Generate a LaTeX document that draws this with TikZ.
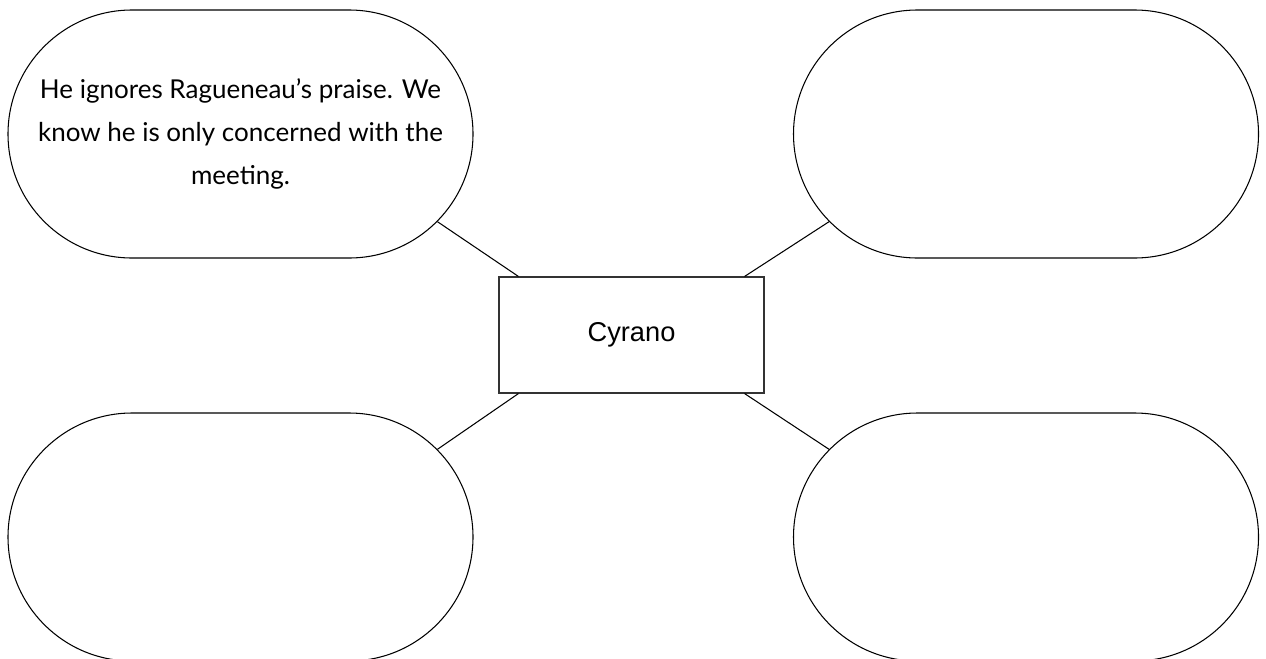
\documentclass[tikz,border=0pt]{standalone}
\usepackage{fontspec}
\setmainfont{Liberation Sans}
\newfontfamily\handfont{Lato}
\usetikzlibrary{shapes.misc}

\begin{document}
\begin{tikzpicture}[
    bubble/.style={draw, rounded rectangle, line width=0.6pt,
      minimum width=9.3cm, minimum height=4.96cm, inner sep=0pt,
      align=center, font=\handfont\fontsize{14.8}{24.7}\selectfont},
    centerbox/.style={draw=black!80, rectangle, line width=0.6pt,
      minimum width=5.3cm, minimum height=2.32cm,
      font=\fontsize{15.5}{18}\selectfont},
    link/.style={line width=0.6pt}
  ]
  % page frame
  \useasboundingbox (0,0) rectangle (25.32,-13.16);

  % Centre box
  \node[centerbox] (cyrano) at (12.63,-6.70) {Cyrano};

  % Bubbles
  \node[bubble] (topleft) at (4.81,-2.68)
    {He ignores Ragueneau’s praise. We\\know he is only concerned with the\\meeting.};
  \node[bubble] (topright) at (20.52,-2.68) {};
  \node[bubble] (bottomleft) at (4.81,-10.74) {};
  \node[bubble] (bottomright) at (20.52,-10.74) {};

  % Links
  \draw[link] ([xshift=0.4cm]cyrano.north west) -- (topleft.-24);
  \draw[link] ([xshift=-0.4cm]cyrano.north east) -- (topright.204);
  \draw[link] ([xshift=0.4cm]cyrano.south west) -- (bottomleft.24);
  \draw[link] ([xshift=-0.4cm]cyrano.south east) -- (bottomright.156);
\end{tikzpicture}
\end{document}
